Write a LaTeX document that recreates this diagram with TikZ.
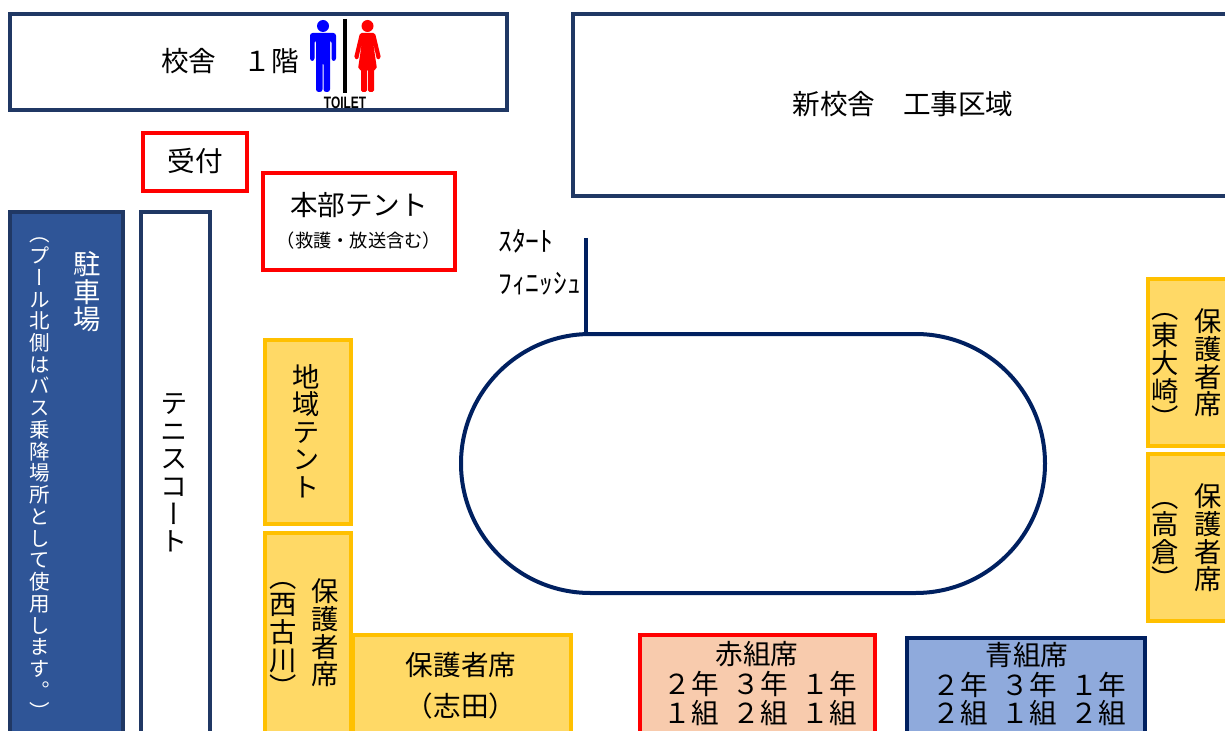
\documentclass[tikz,border=0pt]{standalone}
\usepackage{fontspec}
\setmainfont{Noto Sans CJK JP}
\newfontfamily\vertjp[RawFeature=+vert]{Noto Sans CJK JP}
\newfontfamily\latinbold{Liberation Sans}[BoldFont={Liberation Sans Bold}]
\usetikzlibrary{positioning}
\usetikzlibrary{shapes.misc}
\definecolor{navyline}{HTML}{203864}
\definecolor{darkline}{HTML}{002060}
\definecolor{parkfill}{HTML}{2F5597}
\definecolor{goldline}{HTML}{FFC000}
\definecolor{goldfill}{HTML}{FFD966}
\definecolor{redfill}{HTML}{F8CBAD}
\definecolor{bluefill}{HTML}{8FAADC}
\def\px{0.75pt}
\def\gap{\hspace{.5em}}
\tikzset{
	area/.style={draw,line width=3pt,inner sep=0pt,outer sep=0pt,anchor=north west},
	navybox/.style={area,draw=navyline,fill=white},
	redbox/.style={area,draw=red,fill=white},
	goldbox/.style={area,draw=goldline,fill=goldfill},
	label/.style={inner sep=0pt,align=center,font=\fontsize{20.7}{22}\selectfont},
	vlabel/.style={inner sep=0pt,align=center,font=\vertjp\fontsize{20.5}{20.7}\selectfont},
	smallv/.style={inner sep=0pt,align=center,text=white,font=\vertjp\fontsize{15.4}{16.3}\selectfont}
}
\begin{document}
\begin{tikzpicture}[x=\px,y=-\px]
	\path[use as bounding box,clip] (0,0) rectangle (1225,731);
	\node [navybox,minimum width=497*\px,minimum height=96*\px] (school) at (10,14) {};
	\node [navybox,minimum width=700*\px,minimum height=182*\px] (newschool) at (573,14) {};
	\node [redbox,minimum width=104*\px,minimum height=58*\px] (desk) at (143,133) {};
	\node [redbox,minimum width=192*\px,minimum height=97*\px] (hq) at (263,173) {};
	\node [area,draw=navyline,fill=parkfill,minimum width=113*\px,minimum height=560*\px] (parking) at (10,212) {};
	\node [navybox,minimum width=69*\px,minimum height=560*\px] (tennis) at (141,212) {};
	\node [goldbox,minimum width=86*\px,minimum height=184*\px] (localtent) at (265,340) {};
	\node [goldbox,minimum width=86*\px,minimum height=240*\px] (nishikogawa) at (265,533) {};
	\node [goldbox,minimum width=218*\px,minimum height=140*\px] (shida) at (353,635) {};
	\node [area,draw=red,fill=redfill,minimum width=235*\px,minimum height=140*\px] (redseat) at (640,635) {};
	\node [area,draw=darkline,fill=bluefill,minimum width=238*\px,minimum height=140*\px] (blueseat) at (907,638) {};
	\node [goldbox,minimum width=120*\px,minimum height=167*\px] (higashi) at (1148,279) {};
	\node [goldbox,minimum width=120*\px,minimum height=167*\px] (takakura) at (1148,454) {};
	\node [rounded rectangle,draw=darkline,line width=3pt,inner sep=0pt,outer sep=0pt,minimum width=584*\px,minimum height=259*\px] (track) at (753,463.5) {};
	\coordinate (starttop) at (586,238);
	\draw [darkline,line width=3pt] (starttop) -- (starttop |- track.north);
	\node [label] (schoollabel) at (230,61) {校舎　１階};
	\node [label] (newlabel) at (903,104) {新校舎　工事区域};
	\node [label] (desklabel) at (195,161) {受付};
	\node [label] (hqlabel) at (359,205) {本部テント};
	\node [label,font=\fontsize{13.7}{15}\selectfont] (hqsub) at (359,241) {（救護・放送含む）};
	\node [label,anchor=west] (startlabel) at (498,241) {ｽﾀｰﾄ};
	\node [label,anchor=west] (finishlabel) at (498,284) {ﾌｨﾆｯｼｭ};
	\node [vlabel,text=white] (parklabel) at (87,292) {駐\\車\\場};
	\node [smallv] (parksub) at (40,479) {（\\プ\\ー\\ル\\北\\側\\は\\バ\\ス\\乗\\降\\場\\所\\と\\し\\て\\使\\用\\し\\ま\\す\\。\\）};
	\node [vlabel] (tennislabel) at (174,473) {テ\\ニ\\ス\\コ\\ー\\ト};
	\node [vlabel] (locallabel) at (306,431) {地\\域\\テ\\ン\\ト};
	\node [vlabel] (nishiseat) at (325,633) {保\\護\\者\\席};
	\node [vlabel] (nishiname) at (283,640) {（\\西\\古\\川\\）};
	\node [label] (shidaseat) at (461,665) {保護者席};
	\node [label] (shidaname) at (461,706) {（志田）};
	\node [label] (redtitle) at (757,654) {赤組席};
	\node [label] (redyear) at (760,684) {２年\gap ３年\gap １年};
	\node [label] (redclass) at (760,713) {１組\gap ２組\gap １組};
	\node [label] (bluetitle) at (1027,655) {青組席};
	\node [label] (blueyear) at (1029,685) {２年\gap ３年\gap １年};
	\node [label] (blueclass) at (1029,713) {２組\gap １組\gap ２組};
	\node [vlabel] (higashiseat) at (1208,363) {保\\護\\者\\席};
	\node [vlabel] (higashiname) at (1165,371) {（\\東\\大\\崎\\）};
	\node [vlabel] (takaseat) at (1208,538) {保\\護\\者\\席};
	\node [vlabel] (takaname) at (1165,546) {（\\高\\倉\\）};
	\fill [blue] (323,26) circle (6);
	\fill [blue,rounded corners=2pt] (310,61) -- (310,33) -- (336,33) -- (336,61) -- (331.5,61) -- (331.5,40) -- (330,40) -- (330,92) -- (323.5,92) -- (323.5,62) -- (322.5,62) -- (322.5,92) -- (316,92) -- (316,40) -- (314.5,40) -- (314.5,61) -- cycle;
	\draw [line width=3pt] (345,19) -- (345,93);
	\fill [red] (367.5,26) circle (6);
	\fill [red,rounded corners=1.2pt] (354,58) -- (360,33) -- (375,33) -- (381,58) -- (377,60) -- (373,42) -- (377,69) -- (374,69) -- (374,92) -- (368,92) -- (368,69) -- (367,69) -- (367,92) -- (361,92) -- (361,69) -- (358,69) -- (362,42) -- (358,60) -- cycle;
	\node [inner sep=0pt,xscale=.72,transform shape,font=\latinbold\bfseries\fontsize{12.4}{13}\selectfont] (toilet) at (345,102.5) {TOILET};
\end{tikzpicture}
\end{document}
